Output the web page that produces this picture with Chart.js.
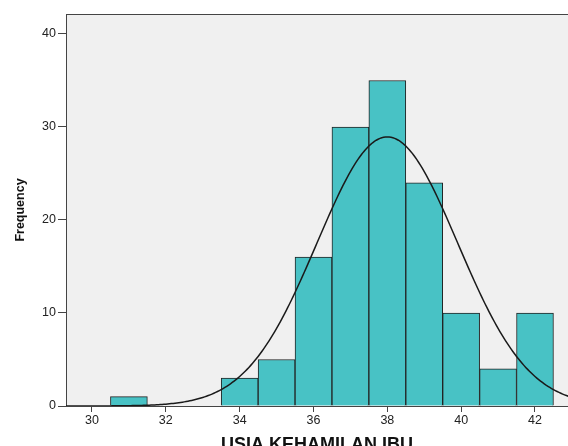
<!DOCTYPE html>
<html>
<head>
<meta charset="utf-8">
<script src="https://cdn.jsdelivr.net/npm/chart.js@4/dist/chart.umd.min.js"></script>
<style>
  body { margin: 0; background: #fff; }
  canvas { display: block; }
</style>
</head>
<body>
<canvas id="histChart" width="568" height="446"></canvas>
<script>
// histogram bins (bin centre, width 1) and counts
const binCenters = [31, 32, 33, 34, 35, 36, 37, 38, 39, 40, 41, 42];
const counts     = [1,  0,  0,  3,  5,  16, 30, 35, 24, 10, 4,  10];
const xTicks = [30, 32, 34, 36, 38, 40, 42];
const yTicks = [0, 10, 20, 30, 40];

// normal curve fitted to the histogram (mean / sd from the bins)
const total = counts.reduce((a, b) => a + b, 0);
const mean = binCenters.reduce((s, x, i) => s + x * counts[i], 0) / total;
const sd = Math.sqrt(binCenters.reduce((s, x, i) => s + counts[i] * (x - mean) ** 2, 0) / (total - 1));
const curve = [];
for (let x = 29; x <= 43.5; x += 0.05) {
  const z = (x - mean) / sd;
  curve.push({ x: x, y: total * Math.exp(-0.5 * z * z) / (sd * Math.sqrt(2 * Math.PI)) });
}

const bars = binCenters.map((x, i) => ({ x: x, y: counts[i] })).filter(d => d.y > 0);

// plot background + top frame
const plotBg = {
  id: "plotBg",
  beforeDraw(chart) {
    const { ctx, chartArea: a } = chart;
    ctx.save();
    ctx.fillStyle = "#f0f0f0";
    ctx.fillRect(a.left, a.top, a.right - a.left, a.bottom - a.top);
    ctx.strokeStyle = "#444";
    ctx.lineWidth = 1;
    ctx.beginPath();
    ctx.moveTo(a.left, a.top + 0.5);
    ctx.lineTo(a.right, a.top + 0.5);
    ctx.stroke();
    ctx.restore();
  }
};

const tickFont = { family: "'Liberation Sans', Arial, sans-serif", size: 12.5 };

new Chart(document.getElementById("histChart"), {
  type: "bar",
  data: {
    datasets: [
      {
        type: "line",
        data: curve,
        borderColor: "#1a1a1a",
        borderWidth: 1.5,
        pointRadius: 0,
        tension: 0,
        fill: false,
        order: 0
      },
      {
        type: "bar",
        data: bars,
        backgroundColor: "#48c2c5",
        borderColor: "#222",
        borderWidth: 1,
        barPercentage: 1,
        categoryPercentage: 1,
        order: 1
      }
    ]
  },
  options: {
    responsive: false,
    animation: false,
    layout: { padding: { top: 14, right: 0, left: 0, bottom: 0 } },
    plugins: { legend: { display: false }, tooltip: { enabled: false } },
    scales: {
      x: {
        type: "linear",
        offset: false,
        min: 29.296,
        max: 42.894,
        afterFit: s => { s.height = 40; },
        afterBuildTicks: s => { s.ticks = xTicks.map(v => ({ value: v })); },
        ticks: { font: tickFont, color: "#222", padding: 1, maxRotation: 0, includeBounds: false },
        grid: { offset: false, drawOnChartArea: false, tickLength: 6, tickColor: "#444" },
        border: { color: "#444" },
        title: {
          display: true,
          text: "USIA KEHAMILAN IBU",
          color: "#111",
          font: { family: "'Liberation Sans', Arial, sans-serif", size: 18, weight: "bold", lineHeight: 0.06 },
          padding: 0
        }
      },
      y: {
        min: 0,
        max: 42.15,
        afterFit: s => { s.width = 66; },
        afterBuildTicks: s => { s.ticks = yTicks.map(v => ({ value: v })); },
        ticks: { font: tickFont, color: "#222", padding: 2 },
        grid: { drawOnChartArea: false, tickLength: 8, tickColor: "#444" },
        border: { color: "#444" },
        title: {
          display: true,
          text: "Frequency",
          color: "#111",
          font: { family: "'Liberation Sans', Arial, sans-serif", size: 12.5, weight: "bold", lineHeight: 1.2 },
          padding: { top: 13, bottom: 0 }
        }
      }
    }
  },
  plugins: [plotBg]
});
</script>
</body>
</html>
